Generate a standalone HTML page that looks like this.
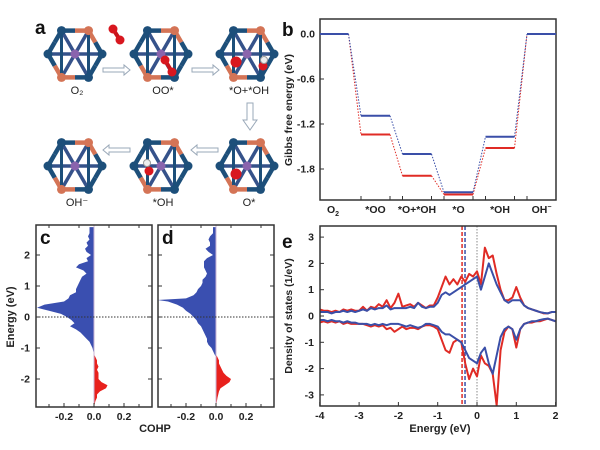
<!DOCTYPE html>
<html><head><meta charset="utf-8"><style>
html,body{margin:0;padding:0;background:#fff;}
svg{display:block;font-family:"Liberation Sans",Arial,sans-serif;}
.t{font-size:10.5px;font-weight:bold;fill:#222;}
.lbl{font-size:19px;font-weight:bold;fill:#111;}
</style></head><body>
<svg id="fig" width="600" height="450" viewBox="0 0 600 450">
<g id="pa"></g>
<g id="pb"></g>
<g id="pc"></g>
<g id="pd"></g>
<g id="pe"></g>
</svg>
<script>
// ---------- Panel b data ----------
const bSteps = ["O2","*OO","*O+*OH","*O","*OH","OH-"];
const bBlue = [0,-1.09,-1.6,-2.11,-1.37,0];
const bRed = [0,-1.34,-1.89,-2.14,-1.52,0];
const bTicks = [0,-0.6,-1.2,-1.8];
// ---------- Panel c/d data ----------
const cBlueE = [-1.2,-1.1,-1.0,-0.9,-0.8,-0.7,-0.6,-0.5,-0.4,-0.3,-0.2,-0.1,0.0,0.1,0.2,0.3,0.4,0.5,0.6,0.7,0.8,0.9,1.0,1.1,1.2,1.3,1.4,1.5,1.6,1.7,1.8,1.9,2.0,2.1,2.2,2.3,2.4,2.5,2.6,2.7,2.8,2.9];
const cBlueV = [0,-0.005,-0.01,-0.02,-0.03,-0.05,-0.07,-0.09,-0.12,-0.16,-0.13,-0.15,-0.18,-0.22,-0.3,-0.38,-0.33,-0.2,-0.17,-0.16,-0.12,-0.12,-0.11,-0.1,-0.09,-0.08,-0.05,-0.07,-0.12,-0.1,-0.04,-0.05,-0.02,-0.05,-0.06,-0.04,-0.05,-0.03,-0.04,-0.03,-0.03,-0.03];
const cRedE = [-2.9,-2.8,-2.7,-2.6,-2.5,-2.4,-2.3,-2.2,-2.1,-2.0,-1.9,-1.8,-1.7,-1.6,-1.5,-1.4,-1.3,-1.2];
const cRedV = [0,0.005,0.01,0.02,0.02,0.04,0.08,0.09,0.05,0.03,0.03,0.03,0.02,0.03,0.02,0.02,0.01,0];
const dBlueE = [-1.3,-1.2,-1.1,-1.0,-0.9,-0.8,-0.7,-0.6,-0.5,-0.4,-0.3,-0.2,-0.1,0.0,0.1,0.2,0.3,0.4,0.5,0.55,0.6,0.7,0.8,0.9,1.0,1.1,1.2,1.3,1.4,1.5,1.6,1.7,1.8,1.9,2.0,2.1,2.2,2.3,2.4,2.5,2.6,2.7,2.8,2.9];
const dBlueV = [0,-0.01,-0.02,-0.03,-0.05,-0.06,-0.06,-0.07,-0.08,-0.09,-0.1,-0.12,-0.13,-0.15,-0.17,-0.2,-0.22,-0.26,-0.32,-0.39,-0.2,-0.15,-0.13,-0.12,-0.1,-0.09,-0.09,-0.07,-0.06,-0.07,-0.08,-0.08,-0.08,-0.06,-0.02,-0.05,-0.07,-0.04,-0.04,-0.05,-0.04,-0.02,-0.02,-0.02];
const dRedE = [-2.9,-2.6,-2.5,-2.4,-2.3,-2.2,-2.1,-2.0,-1.9,-1.8,-1.7,-1.6,-1.5,-1.4,-1.3,-1.2];
const dRedV = [0,0.01,0.015,0.02,0.03,0.06,0.09,0.1,0.07,0.05,0.04,0.03,0.02,0.02,0.01,0];
const cohpXTicks = [-0.2,0.0,0.2];
const cohpYTicks = [2,1,0,-1,-2];
// ---------- Panel e data ----------
const eEnergy = [-4,-3.9,-3.8,-3.7,-3.6,-3.5,-3.4,-3.3,-3.2,-3.1,-3.0,-2.9,-2.8,-2.7,-2.6,-2.5,-2.4,-2.3,-2.2,-2.1,-2.0,-1.9,-1.8,-1.7,-1.6,-1.5,-1.4,-1.3,-1.2,-1.1,-1.0,-0.9,-0.8,-0.7,-0.6,-0.5,-0.4,-0.3,-0.2,-0.1,0.0,0.1,0.2,0.3,0.4,0.5,0.6,0.7,0.8,0.9,1.0,1.1,1.2,1.3,1.4,1.5,1.6,1.7,1.8,1.9,2.0];
const eRedUp = [0.25,0.2,0.2,0.15,0.2,0.15,0.25,0.2,0.25,0.2,0.2,0.35,0.2,0.35,0.3,0.45,0.35,0.6,0.3,0.5,0.85,0.35,0.4,0.45,0.35,0.5,0.4,0.3,0.4,0.4,0.7,1.1,1.5,1.2,1.4,1.2,1.5,1.3,1.6,1.5,1.7,1.2,2.6,2.2,2.3,1.6,1.0,0.6,0.6,0.7,1.1,0.7,0.4,0.3,0.25,0.2,0.15,0.1,0.1,0.15,0.15];
const eBlueUp = [0.15,0.15,0.15,0.1,0.15,0.15,0.2,0.15,0.2,0.15,0.2,0.25,0.2,0.3,0.25,0.3,0.3,0.4,0.25,0.3,0.3,0.3,0.3,0.35,0.3,0.5,0.35,0.3,0.35,0.35,0.5,0.8,0.9,0.8,0.9,1.0,1.1,1.2,1.3,1.4,1.5,1.0,1.5,2.0,1.6,1.2,0.9,0.6,0.5,0.6,0.6,0.6,0.4,0.3,0.25,0.2,0.15,0.12,0.1,0.15,0.15];
const eRedDn = [-0.25,-0.2,-0.25,-0.2,-0.25,-0.2,-0.3,-0.25,-0.3,-0.3,-0.3,-0.3,-0.35,-0.4,-0.35,-0.4,-0.35,-0.5,-0.45,-0.6,-0.5,-0.4,-0.5,-0.45,-0.45,-0.5,-0.4,-0.35,-0.35,-0.4,-0.5,-0.9,-1.3,-1.4,-1.0,-0.9,-1.0,-1.8,-2.4,-2.0,-2.3,-1.5,-1.8,-1.9,-2.2,-3.4,-1.3,-0.6,-0.4,-0.5,-1.2,-0.5,-0.3,-0.25,-0.25,-0.2,-0.2,-0.15,-0.1,-0.15,-0.2];
const eBlueDn = [-0.15,-0.15,-0.2,-0.15,-0.2,-0.2,-0.25,-0.2,-0.25,-0.25,-0.3,-0.3,-0.3,-0.35,-0.3,-0.35,-0.3,-0.35,-0.3,-0.3,-0.3,-0.35,-0.4,-0.35,-0.4,-0.45,-0.4,-0.3,-0.3,-0.35,-0.4,-0.6,-0.7,-0.7,-0.8,-0.9,-1.0,-1.3,-1.6,-1.7,-1.8,-1.4,-1.2,-1.8,-2.2,-1.5,-0.8,-0.5,-0.4,-0.5,-0.9,-0.5,-0.3,-0.25,-0.2,-0.2,-0.15,-0.12,-0.1,-0.15,-0.2];
const eXTicks = [-4,-3,-2,-1,0,1,2];
const eYTicks = [3,2,1,0,-1,-2,-3];
const eDashRed = -0.38, eDashBlue = -0.33;

const NS="http://www.w3.org/2000/svg";
function mk(parent,tag,attrs){const e=document.createElementNS(NS,tag);for(const k in attrs)e.setAttribute(k,attrs[k]);parent.appendChild(e);return e;}
function txt(parent,x,y,s,cls,anchor){const t=mk(parent,"text",{x:x,y:y,class:cls||"t","text-anchor":anchor||"middle"});t.textContent=s;return t;}
const BLUE="#3a4fa8", RED="#e02b25";

// ---------- Panel a ----------
const pa=document.getElementById("pa");
const clusters=[[75,54,"O₂"],[161,54,"OO*"],[247,54,"*O+*OH"],[75,166,"OH⁻"],[161,166,"*OH"],[247,166,"O*"]];
clusters.forEach((c,i)=>{
  const g=mk(pa,"g",{});
  
  
  const [cx,cy,lab]=c;const r=27;
  const pts=[];for(let k=0;k<6;k++){const a=Math.PI/3*k;pts.push([cx+r*Math.cos(a),cy-r*Math.sin(a)]);}
  const col=k=>(k===1||k===4)?"#d47456":"#1d4f7a";
  for(let k=0;k<6;k++){const p=pts[k],q=pts[(k+1)%6];const mx=(p[0]+q[0])/2,my=(p[1]+q[1])/2;
    mk(g,"line",{x1:p[0],y1:p[1],x2:mx,y2:my,stroke:col(k),"stroke-width":4.5});
    mk(g,"line",{x1:mx,y1:my,x2:q[0],y2:q[1],stroke:col((k+1)%6),"stroke-width":4.5});}
  for(let k=0;k<6;k++){mk(g,"line",{x1:cx,y1:cy,x2:pts[k][0],y2:pts[k][1],stroke:"#35528a","stroke-width":3.5});}
  mk(g,"line",{x1:pts[1][0],y1:pts[1][1],x2:pts[5][0],y2:pts[5][1],stroke:"#1d4f7a","stroke-width":3});
  mk(g,"line",{x1:pts[2][0],y1:pts[2][1],x2:pts[4][0],y2:pts[4][1],stroke:"#1d4f7a","stroke-width":3});
  mk(g,"circle",{cx:cx,cy:cy,r:4.5,fill:"#8a64ad"});
  for(let k=0;k<6;k++)mk(g,"circle",{cx:pts[k][0],cy:pts[k][1],r:4.5,fill:col(k)});
  const tl=txt(g,cx+2,cy+40,lab,"t");tl.setAttribute("style","font-weight:normal;font-size:11px");
});
[[113,29,120,40],[165,60,172,72]].forEach(s=>{mk(pa,"line",{x1:s[0],y1:s[1],x2:s[2],y2:s[3],stroke:"#c8141c","stroke-width":4});mk(pa,"circle",{cx:s[0],cy:s[1],r:4.5,fill:"#d8171f"});mk(pa,"circle",{cx:s[2],cy:s[3],r:4.5,fill:"#d8171f"});});
mk(pa,"circle",{cx:236,cy:62,r:5.5,fill:"#d8171f"});mk(pa,"circle",{cx:263,cy:66,r:4.5,fill:"#d8171f"});mk(pa,"circle",{cx:264,cy:60,r:3.5,fill:"#eee",stroke:"#999"});
mk(pa,"circle",{cx:236,cy:174,r:5.5,fill:"#d8171f"});
mk(pa,"circle",{cx:149,cy:171,r:4.5,fill:"#d8171f"});mk(pa,"circle",{cx:147,cy:163,r:3.5,fill:"#eee",stroke:"#999"});
function harrow(x1,x2,y){const g=mk(pa,"g",{});const d=x2>x1?1:-1;
  mk(g,"path",{d:`M${x1},${y-2} L${x2-d*6},${y-2} L${x2-d*6},${y-5} L${x2},${y} L${x2-d*6},${y+5} L${x2-d*6},${y+2} L${x1},${y+2} Z`,fill:"#fff",stroke:"#9aa8b8","stroke-width":1});}
harrow(103,130,70);harrow(192,219,70);harrow(130,103,150);harrow(218,191,150);
mk(pa,"path",{d:"M247,103 L247,120 L243,120 L250,130 L257,120 L253,120 L253,103 Z",fill:"#fff",stroke:"#9aa8b8"});
txt(pa,35,34,"a","lbl","start");
txt(pa,282,36,"b","lbl","start");

// ---------- Panel b ----------
const pb=document.getElementById("pb");
const bx0=320,bx1=556,by0=19,by1=200;
const bY=E=>34-75*E;
const bXc=i=>334+41.5*i;
mk(pb,"rect",{x:bx0,y:by0,width:bx1-bx0,height:by1-by0,fill:"none",stroke:"#333","stroke-width":1.5});
bTicks.forEach(t=>{mk(pb,"line",{x1:bx0,y1:bY(t),x2:bx0+4,y2:bY(t),stroke:"#333"});txt(pb,bx0-5,bY(t)+3.5,t.toFixed(1),"t","end");});
bSteps.forEach((s,i)=>{
  const x=i===0?333:bXc(i);
  const l=mk(pb,"text",{x:x,y:213,class:"t","text-anchor":"middle"});
  if(s==="O2"){l.textContent="O";const ts=mk(l,"tspan",{dy:3,"font-size":7});ts.textContent="2";}
  else if(s==="OH-"){l.textContent="OH";const ts=mk(l,"tspan",{dy:-4,"font-size":7});ts.textContent="−";}
  else l.textContent=s;
  if(i>0){mk(pb,"line",{x1:bXc(i)-14.5,y1:by1,x2:bXc(i)-14.5,y2:by1-4,stroke:"#333"});mk(pb,"line",{x1:bXc(i)+14.5,y1:by1,x2:bXc(i)+14.5,y2:by1-4,stroke:"#333"});}
});
function levels(vals,color,name){
  const g=mk(pb,"g",{});
  
  
  vals.forEach((v,i)=>{
    const xa=i===0?bx0:bXc(i)-14.5, xb=i===5?bx1:bXc(i)+14.5;
    mk(g,"line",{x1:xa,y1:bY(v),x2:xb,y2:bY(v),stroke:color,"stroke-width":2});
    if(i<5){const xn=bXc(i+1)-14.5;mk(g,"line",{x1:xb,y1:bY(v),x2:xn,y2:bY(vals[i+1]),stroke:color,"stroke-width":1,"stroke-dasharray":"1.5,1.5"});}
  });
}
levels(bRed,RED,"red-levels");levels(bBlue,BLUE,"blue-levels");
const gt=txt(pb,0,0,"Gibbs free energy (eV)","t");gt.setAttribute("transform","translate(292,110) rotate(-90)");gt.setAttribute("style","font-size:10.5px");

// ---------- Panels c, d ----------
function cohp(id,x0,x1,zeroX,bE,bV,rE,rV,letter){
  const p=document.getElementById(id);
  const y0=225,y1=407;
  const X=v=>zeroX+v*150; const Y=E=>317-31*E;
  function area(E,V,col,name){
    let d=`M${X(0)},${Y(E[0])}`;E.forEach((e,i)=>d+=` L${X(V[i])},${Y(e)}`);d+=` L${X(0)},${Y(E[E.length-1])} Z`;
    const a=mk(p,"path",{d:d,fill:col});
    
    
  }
  area(bE,bV,"#3a4fb0",letter+"-antibonding-area");
  area(rE,rV,"#e8211d",letter+"-bonding-area");
  mk(p,"line",{x1:X(0),y1:y0,x2:X(0),y2:y1,stroke:"#c9b6d6","stroke-width":1});
  mk(p,"line",{x1:x0,y1:Y(0),x2:x1,y2:Y(0),stroke:"#333","stroke-width":1,"stroke-dasharray":"1.5,1.5"});
  mk(p,"rect",{x:x0,y:y0,width:x1-x0,height:y1-y0,fill:"none",stroke:"#333","stroke-width":1.5});
  cohpXTicks.forEach(t=>{mk(p,"line",{x1:X(t),y1:y1,x2:X(t),y2:y1-4,stroke:"#333"});txt(p,X(t),y1+13,t.toFixed(1));});
  cohpYTicks.forEach(t=>{mk(p,"line",{x1:x0,y1:Y(t),x2:x0+4,y2:Y(t),stroke:"#333"});mk(p,"line",{x1:x1,y1:Y(t),x2:x1-4,y2:Y(t),stroke:"#333"});if(id==="pc")txt(p,x0-6,Y(t)+3.5,String(t),"t","end");});
  [-0.1,0.1,-0.3,0.3].forEach(t=>{if(X(t)>x0&&X(t)<x1){mk(p,"line",{x1:X(t),y1:y1,x2:X(t),y2:y1-3,stroke:"#333"});mk(p,"line",{x1:X(t),y1:y0,x2:X(t),y2:y0+3,stroke:"#333"});}});
  txt(p,x0+4,y0+19,letter,"lbl","start");
}
cohp("pc",36,152,94,cBlueE,cBlueV,cRedE,cRedV,"c");
cohp("pd",158,274,216,dBlueE,dBlueV,dRedE,dRedV,"d");
const cy=txt(document.getElementById("pc"),0,0,"Energy (eV)","t");cy.setAttribute("transform","translate(14,317) rotate(-90)");cy.setAttribute("style","font-size:11px");
txt(document.getElementById("pd"),155,432,"COHP","t").setAttribute("style","font-size:11px");

// ---------- Panel e ----------
const pe=document.getElementById("pe");
const ex0=320,ex1=556,ey0=226,ey1=406;
const eX=E=>477+39.3*E; const eY=v=>316-26.3*v;
mk(pe,"line",{x1:eX(0),y1:ey0,x2:eX(0),y2:ey1,stroke:"#888","stroke-width":1,"stroke-dasharray":"1.5,1.5"});
mk(pe,"line",{x1:eX(eDashRed),y1:ey0,x2:eX(eDashRed),y2:ey1,stroke:RED,"stroke-width":1.5,"stroke-dasharray":"4,2"});
mk(pe,"line",{x1:eX(eDashBlue)+1,y1:ey0,x2:eX(eDashBlue)+1,y2:ey1,stroke:BLUE,"stroke-width":1.5,"stroke-dasharray":"4,2"});
function line(V,col,name){
  const pts=eEnergy.map((e,i)=>`${eX(e)},${eY(V[i])}`).join(" ");
  const l=mk(pe,"polyline",{points:pts,fill:"none",stroke:col,"stroke-width":2,"stroke-linejoin":"round"});
  
  
}
line(eRedUp,RED,"dos-red-spin-up");line(eRedDn,RED,"dos-red-spin-down");
line(eBlueUp,BLUE,"dos-blue-spin-up");line(eBlueDn,BLUE,"dos-blue-spin-down");
mk(pe,"rect",{x:ex0,y:ey0,width:ex1-ex0,height:ey1-ey0,fill:"none",stroke:"#333","stroke-width":1.5});
eXTicks.forEach(t=>{mk(pe,"line",{x1:eX(t),y1:ey1,x2:eX(t),y2:ey1-4,stroke:"#333"});txt(pe,eX(t),ey1+13,String(t));});
eYTicks.forEach(t=>{mk(pe,"line",{x1:ex0,y1:eY(t),x2:ex0+4,y2:eY(t),stroke:"#333"});txt(pe,ex0-6,eY(t)+3.5,String(t),"t","end");});
txt(pe,282,248,"e","lbl","start");
const ey=txt(pe,0,0,"Density of states (1/eV)","t");ey.setAttribute("transform","translate(292,316) rotate(-90)");ey.setAttribute("style","font-size:10.5px");
txt(pe,440,432,"Energy (eV)","t").setAttribute("style","font-size:11px");
</script>
</body></html>
